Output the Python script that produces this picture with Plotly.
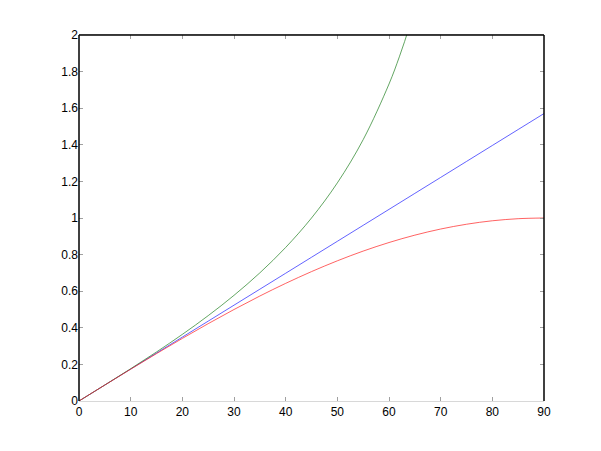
import plotly.graph_objects as go

angle_deg = [0, 5, 10, 15, 20, 25, 30, 35, 40, 45, 50, 55, 60, 65, 70, 75, 80, 85, 90]
blue_vals = [0, 0.0873, 0.1745, 0.2618, 0.3491, 0.4363, 0.5236, 0.6109, 0.6981, 0.7854,
             0.8727, 0.9599, 1.0472, 1.1345, 1.2217, 1.3090, 1.3963, 1.4835, 1.5708]
red_vals = [0, 0.0872, 0.1736, 0.2588, 0.3420, 0.4226, 0.5, 0.5736, 0.6428, 0.7071,
            0.7660, 0.8192, 0.8660, 0.9063, 0.9397, 0.9659, 0.9848, 0.9962, 1.0]
green_x = [0, 5, 10, 15, 20, 25, 30, 35, 40, 45, 50, 55, 60, 62, 64, 66]
green_vals = [0, 0.0875, 0.1763, 0.2679, 0.3640, 0.4663, 0.5774, 0.7002, 0.8391, 1.0,
              1.1918, 1.4281, 1.7321, 1.8807, 2.0503, 2.2460]

x_ticks = [0, 10, 20, 30, 40, 50, 60, 70, 80, 90]
y_ticks = [0, 0.2, 0.4, 0.6, 0.8, 1, 1.2, 1.4, 1.6, 1.8, 2]
y_labels = ["0", "0.2", "0.4", "0.6", "0.8", "1", "1.2", "1.4", "1.6", "1.8", "2"]

fig = go.Figure()
fig.add_trace(go.Scatter(x=angle_deg, y=blue_vals, mode="lines",
                         line=dict(color="#2020ff", width=0.7), line_shape="spline"))
fig.add_trace(go.Scatter(x=green_x, y=green_vals, mode="lines",
                         line=dict(color="#208020", width=0.7), line_shape="spline"))
fig.add_trace(go.Scatter(x=angle_deg, y=red_vals, mode="lines",
                         line=dict(color="#ff2020", width=0.7), line_shape="spline"))

fig.update_layout(
    width=585, height=436,
    margin=dict(l=71, r=49, t=27, b=43),
    paper_bgcolor="white", plot_bgcolor="white",
    showlegend=False,
    font=dict(family="Liberation Sans, Arial, sans-serif", size=12, color="black"),
    shapes=[
        dict(type="line", xref="paper", yref="paper", x0=0, x1=1, y0=1, y1=1,
             line=dict(color="black", width=1.5), layer="above"),
        dict(type="line", xref="paper", yref="paper", x0=0, x1=0, y0=0, y1=1,
             line=dict(color="black", width=1.5), layer="above"),
        dict(type="line", xref="paper", yref="paper", x0=1, x1=1, y0=0, y1=1,
             line=dict(color="black", width=1.5), layer="above"),
    ],
)
fig.update_xaxes(range=[0, 90], tickvals=x_ticks, ticktext=[str(v) for v in x_ticks],
                 showgrid=False, zeroline=False, showline=True, linecolor="#d8d8d8",
                 linewidth=1, mirror="ticks", ticks="inside", ticklen=4,
                 tickcolor="#a0a0a0")
fig.update_yaxes(range=[0, 2], tickvals=y_ticks, ticktext=y_labels,
                 showgrid=False, zeroline=False, showline=False,
                 mirror="ticks", ticks="inside", ticklen=4,
                 tickcolor="#a0a0a0")

fig.write_html("out.html")
